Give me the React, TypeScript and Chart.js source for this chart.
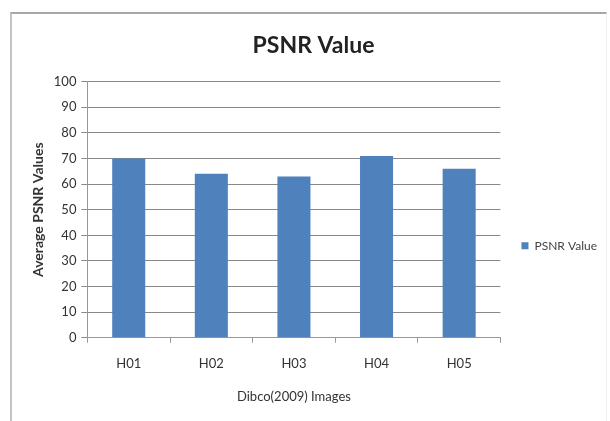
import React, { useEffect, useRef } from "react";
import { Chart, registerables } from "chart.js";

Chart.register(...registerables);

const categories = ["H01", "H02", "H03", "H04", "H05"];
const psnrValues = [70, 64, 63, 71, 66];
const seriesName = "PSNR Value";
const yMin = 0;
const yMax = 100;
const yStep = 10;

export default function App() {
  const ref = useRef<HTMLCanvasElement | null>(null);
  useEffect(() => {
    if (!ref.current) return;
    const chart = new Chart(ref.current, {
      type: "bar",
      data: {
        labels: categories,
        datasets: [
          {
            label: seriesName,
            data: psnrValues,
            backgroundColor: "#4F81BD",
            borderWidth: 0,
            barPercentage: 0.5,
            categoryPercentage: 0.8,
          },
        ],
      },
      options: {
        animation: false,
        responsive: false,
        layout: { padding: { top: 32, left: 20, right: 3, bottom: 16 } },
        plugins: {
          title: {
            display: true,
            text: "PSNR Value",
            color: "#222",
            font: { family: "Lato", size: 23, weight: "bold" },
            padding: { top: 0, bottom: 22 },
          },
          legend: {
            position: "right",
            title: { display: true, text: "", font: { family: "Lato", size: 12 }, padding: 20 },
            labels: {
              boxWidth: 7,
              boxHeight: 7,
              padding: 21,
              color: "#444",
              font: { family: "Lato", size: 12 },
            },
          },
          tooltip: { enabled: false },
        },
        scales: {
          x: {
            grid: {
              drawOnChartArea: false,
              drawTicks: true,
              tickLength: 5,
              color: "#999",
            },
            border: { display: true, color: "#999" },
            ticks: {
              padding: 13,
              color: "#333",
              font: { family: "Lato", size: 13 },
            },
            title: {
              display: true,
              text: "Dibco(2009) Images",
              color: "#333",
              font: { family: "Lato", size: 13 },
              padding: { top: 5, bottom: 0 },
            },
          },
          y: {
            min: yMin,
            max: yMax,
            grid: {
              color: "#888",
              drawTicks: true,
              tickLength: 6,
            },
            border: { display: true, color: "#999" },
            ticks: {
              stepSize: yStep,
              padding: 5,
              color: "#333",
              font: { family: "Lato", size: 13 },
            },
            title: {
              display: true,
              text: "Average PSNR Values",
              color: "#333",
              font: { family: "Lato", size: 14, weight: "bold" },
              padding: { top: 10, bottom: 2 },
            },
          },
        },
      },
    });
    return () => chart.destroy();
  }, []);
  return (
    <div style={{ position: "fixed", left: 0, top: 0, width: 610, height: 421, background: "#fff" }}>
      <div
        style={{
          position: "absolute",
          left: 10,
          top: 12,
          width: 594,
          height: 420,
          borderLeft: "2px solid #c4c4c4",
          borderTop: "2px solid #a8a8a8",
          borderRight: "1px solid #eee",
        }}
      />
      <canvas ref={ref} width={610} height={421} style={{ position: "absolute", left: 0, top: 0 }} />
    </div>
  );
}
